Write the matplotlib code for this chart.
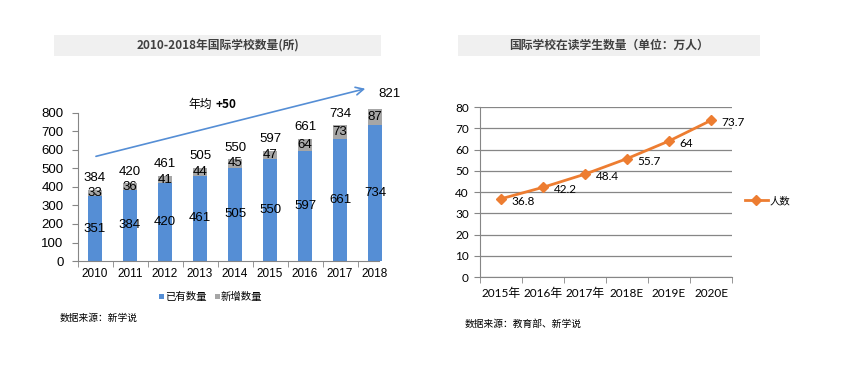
import matplotlib
matplotlib.use("Agg")
import matplotlib.pyplot as plt
from matplotlib.patches import Rectangle

plt.rcParams['font.family'] = ['Noto Sans CJK SC', 'DejaVu Sans']
NUMF = ['Liberation Sans', 'Noto Sans CJK SC']
NUMF2 = ['Lato', 'Noto Sans CJK SC']

# ---- data ----
years = ['2010', '2011', '2012', '2013', '2014', '2015', '2016', '2017', '2018']
existing = [351, 384, 420, 461, 505, 550, 597, 661, 734]
new_added = [33, 36, 41, 44, 45, 47, 64, 73, 87]
left_title = '2010-2018年国际学校数量(所)'
left_legend = ['已有数量', '新增数量']
left_source = '数据来源：新学说'
arrow_text = '年均'
arrow_num = '+50'

stu_cats = ['2015年', '2016年', '2017年', '2018E', '2019E', '2020E']
students = [36.8, 42.2, 48.4, 55.7, 64, 73.7]
right_title = '国际学校在读学生数量（单位：万人）'
right_legend = '人数'
right_source = '数据来源：教育部、新学说'

W, H = 846, 375
fig = plt.figure(figsize=(W / 100, H / 100), dpi=100)

def px_axes(x0, y0, x1, y1):
    return fig.add_axes([x0 / W, 1 - y1 / H, (x1 - x0) / W, (y1 - y0) / H])

blue = '#558ED5'
grey = '#A6A6A6'
orange = '#ED7D31'
axis_col = '#868686'
txt = '#000000'

# ---- title boxes ----
for (x0, x1, t) in [(54, 381, left_title), (458, 760, right_title)]:
    fig.patches.append(Rectangle((x0 / W, 1 - 56 / H), (x1 - x0) / W, 21 / H,
                                 transform=fig.transFigure, facecolor='#F0F0F0',
                                 edgecolor='none', zorder=0))
    fig.text((x0 + x1) / 2 / W, 1 - 45.5 / H, t, ha='center', va='center',
             fontsize=8.5, fontweight='bold', color='#404040')

# ---- left chart ----
ax = px_axes(77.5, 113, 392.5, 261)
xs = list(range(len(years)))
ax.bar(xs, existing, width=0.4, color=blue, zorder=2, clip_on=False)
tops = [e + n for e, n in zip(existing, new_added)]
ax.bar(xs, new_added, width=0.4, bottom=existing, color=grey, zorder=2, clip_on=False)
ax.set_xlim(-0.5, 8.5)
ax.set_ylim(0, 800)
ax.set_yticks(range(0, 801, 100))
ax.set_xticks(xs)
ax.set_xticklabels(years, family=NUMF)
ax.set_yticklabels([str(v) for v in range(0, 801, 100)], family=NUMF)
ax.set_xticks([x - 0.5 for x in xs], minor=True)
ax.tick_params(axis='x', which='major', length=0, labelsize=8.5, pad=5)
ax.tick_params(axis='x', which='minor', length=4, color=axis_col, direction='out')
ax.tick_params(axis='y', length=4, color=axis_col, labelsize=9.5, pad=6)
for s in ['top', 'right']:
    ax.spines[s].set_visible(False)
for s in ['left', 'bottom']:
    ax.spines[s].set_color(axis_col)
ax.spines['bottom'].set_bounds(-0.5, 8.1)
ax.patch.set_alpha(0)
for i, (e, n, t) in enumerate(zip(existing, new_added, tops)):
    ax.text(i, e / 2, str(e), ha='center', va='center', fontsize=9.5, color=txt, zorder=5,
            family=NUMF)
    ax.text(i, e + n / 2, str(n), ha='center', va='center', fontsize=9.5, color=txt, zorder=5,
            family=NUMF)
    dx, dy = (0.4, 50) if i == len(years) - 1 else (0, 30)
    ax.text(i + dx, t + dy, str(t), ha='center', va='bottom', fontsize=9.5, color=txt,
            zorder=5, clip_on=False, family=NUMF)
ax.annotate('', xy=(7.8, 935), xytext=(-0.05, 562),
            arrowprops=dict(arrowstyle='->', color=blue, lw=1.2, mutation_scale=14),
            annotation_clip=False)
ax.text(3.35, 845, arrow_text, ha='right', va='center', fontsize=8.5, color=txt)
ax.text(3.45, 845, arrow_num, ha='left', va='center', fontsize=8.5, color=txt,
        fontweight='bold')
# legend
fig.patches.append(Rectangle((159 / W, 1 - 299 / H), 5 / W, 5 / H, transform=fig.transFigure,
                             facecolor=blue, edgecolor='none'))
fig.text(165 / W, 1 - 296.5 / H, left_legend[0], ha='left', va='center', fontsize=7.5)
fig.patches.append(Rectangle((215 / W, 1 - 299 / H), 5 / W, 5 / H, transform=fig.transFigure,
                             facecolor=grey, edgecolor='none'))
fig.text(221 / W, 1 - 296.5 / H, left_legend[1], ha='left', va='center', fontsize=7.5)
fig.text(60 / W, 1 - 318 / H, left_source, ha='left', va='center', fontsize=7)

# ---- right chart ----
ax2 = px_axes(480, 107, 732, 277)
xs2 = list(range(len(stu_cats)))
ax2.plot(xs2, students, color=orange, lw=2, marker='D', markersize=5, zorder=3,
         clip_on=False, label=right_legend)
ax2.set_xlim(-0.5, 5.5)
ax2.set_ylim(0, 80)
ax2.set_yticks(range(0, 81, 10))
ax2.set_yticklabels([str(v) for v in range(0, 81, 10)], family=NUMF2)
ax2.grid(axis='y', color=axis_col, lw=0.9)
ax2.set_axisbelow(True)
ax2.set_xticks(xs2)
ax2.set_xticklabels(stu_cats, family=NUMF2)
ax2.set_xticks([x - 0.5 for x in xs2] + [5.5], minor=True)
ax2.tick_params(axis='x', which='major', length=0, labelsize=8.5, pad=8)
ax2.tick_params(axis='x', which='minor', length=4, color=axis_col, direction='out')
ax2.tick_params(axis='y', length=4, color=axis_col, labelsize=8.5, pad=4)
for s in ['top', 'right']:
    ax2.spines[s].set_visible(False)
for s in ['left', 'bottom']:
    ax2.spines[s].set_color(axis_col)
ax2.patch.set_alpha(0)
for i, v in enumerate(students):
    ax2.text(i + 0.25, v - 1.2, f'{v:g}', ha='left', va='center', fontsize=8.5, color=txt,
             family=NUMF2)
ax2.legend(loc='center left', bbox_to_anchor=((745 - 480) / 252, (277 - 201) / 170),
           frameon=False, fontsize=7.5, handlelength=2.2, handletextpad=0.2,
           borderaxespad=0, borderpad=0)
fig.text(465 / W, 1 - 324 / H, right_source, ha='left', va='center', fontsize=7)

fig.savefig('out.png', dpi=100, facecolor='white')
